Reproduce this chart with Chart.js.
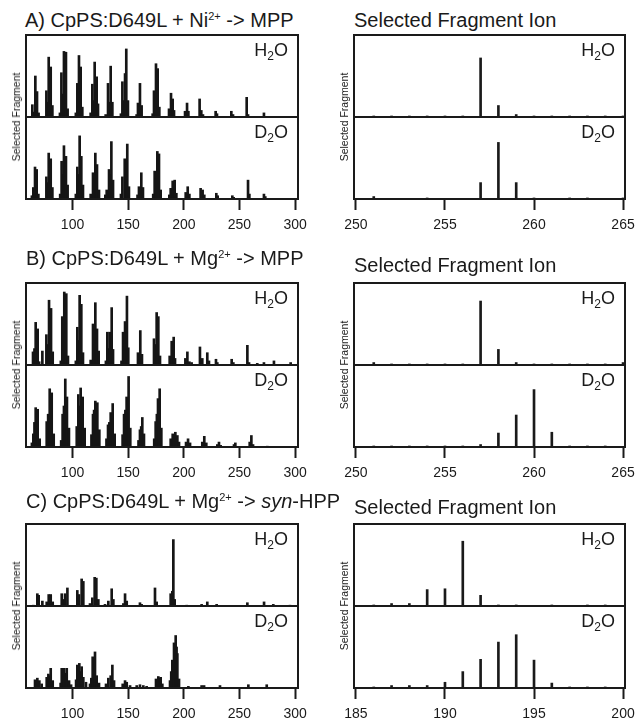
<!DOCTYPE html>
<html>
<head>
<meta charset="utf-8">
<script src="https://cdn.jsdelivr.net/npm/chart.js@4"></script>
<style>
  body { margin: 0; background: #fff; width: 636px; height: 722px; position: relative; overflow: hidden;
         font-family: "Liberation Sans", Arial, sans-serif; color: #1a1a1a; }
  canvas { position: absolute; }
  .title { position: absolute; font-size: 20px; line-height: 20px; white-space: nowrap; }
  .title sup { font-size: 11px; line-height: 0; vertical-align: 7px; }
  .solv { position: absolute; font-size: 18px; line-height: 18px; white-space: nowrap; transform: translateX(-100%); }
  .solv sub { font-size: 12px; line-height: 0; vertical-align: -4px; }
  .ylab { position: absolute; font-size: 10.5px; white-space: nowrap; transform: translate(-50%, -50%) rotate(-90deg); }
</style>
</head>
<body>
<script>
/* ---------- DATA: [m/z, % of half-panel height] ---------- */
const specA_H2O = [
  [63.9,15],[65.3,6],[66.6,50],[68.1,31],[69.5,5],
  [76.5,32],[77.5,18],[78.6,73],[80.4,61],[81.9,14],
  [88.7,5],[90.0,54],[91.1,28],[92.3,80],[93.2,35],[94.1,79],[95.6,10],
  [103.0,5],[104.3,41],[105.8,75],[106.6,30],[107.3,61],[108.8,12],
  [116.3,5],[117.8,40],[118.8,20],[119.9,67],[120.8,28],[121.7,49],[122.9,16],
  [129.8,3],[131.9,41],[133.0,18],[134.3,62],[135.8,18],
  [143.5,4],[144.8,43],[146.0,20],[147.2,53],[148.3,83],[149.8,20],
  [157.6,3],[158.8,17],[160.6,41],[162.1,14],
  [172.0,4],[173.2,32],[174.1,20],[175.0,65],[176.5,59],[178.0,12],
  [186.7,10],[188.5,29],[190.0,22],[191.2,8],
  [201.1,7],[202.9,17],[204.1,7],
  [214.2,22],[215.7,8],[217.2,3],
  [228.6,7],[229.8,4],
  [242.7,7],[244.2,3],
  [256.5,24],[257.7,3],
  [272.0,5]
];
const specA_D2O = [
  [63.5,4],[64.8,14],[66.3,39],[67.8,36],[69.3,6],
  [76.5,27],[77.5,20],[78.6,56],[80.4,49],[81.9,14],
  [88.9,6],[90.2,46],[91.2,30],[92.3,65],[93.2,35],[94.1,52],[95.6,17],
  [103.0,6],[104.3,39],[105.3,30],[106.4,77],[107.9,52],[109.4,17],
  [116.3,6],[118.4,32],[119.5,25],[120.5,56],[121.2,30],[122.0,42],[123.8,11],
  [129.5,5],[130.7,11],[132.8,36],[133.9,30],[134.9,70],[136.4,23],
  [143.5,6],[144.8,27],[146.9,49],[148.0,30],[149.2,67],[150.7,15],
  [158.4,5],[159.7,15],[161.8,32],[163.3,14],
  [172.5,6],[173.8,34],[175.0,25],[176.2,58],[177.7,55],[179.2,11],
  [187.0,5],[188.2,13],[190.0,22],[191.8,23],[193.3,7],
  [201.7,8],[203.5,15],[205.0,6],
  [215.1,13],[216.9,11],[218.4,5],
  [229.2,7],[230.4,4],
  [243.6,4],[244.8,2],
  [257.7,23],[258.9,6],
  [272.0,6],[273.2,3]
];
const specB_H2O = [
  [64.5,16],[65.8,20],[66.9,52],[68.7,44],[70.0,4],[72.9,17],
  [76.5,37],[77.7,25],[78.9,79],[80.7,69],[82.2,16],
  [89.5,5],[90.8,59],[91.7,35],[92.6,89],[93.5,40],[94.4,87],[95.9,11],
  [103.0,5],[104.3,46],[105.3,30],[106.4,85],[107.9,74],[109.4,15],
  [116.3,6],[118.4,50],[119.5,25],[120.5,76],[121.2,30],[122.0,44],[123.5,17],
  [130.0,5],[131.3,40],[132.3,20],[133.4,40],[135.2,70],[136.4,19],
  [144.0,5],[145.4,40],[146.3,22],[147.2,53],[148.9,84],[150.1,21],
  [158.8,15],[160.9,42],[162.4,13],
  [173.2,32],[174.4,25],[175.6,64],[177.1,59],[178.6,11],
  [187.3,11],[189.1,29],[190.9,34],[192.1,8],
  [201.4,8],[203.2,16],[205.0,4],[207.0,3],
  [214.5,22],[216.6,8],[221.1,15],[222.6,5],
  [228.9,7],[230.1,3],
  [243.0,7],[244.5,3],
  [257.1,24],[258.6,3],
  [266.0,2],[272.0,3],[281.0,5],[296.0,3]
];
const specB_D2O = [
  [63.5,5],[64.8,16],[65.8,30],[66.9,48],[67.8,40],[68.7,46],[70.5,10],
  [76.8,31],[78.1,40],[79.5,71],[80.4,55],[81.3,66],[83.1,16],
  [89.8,8],[91.1,40],[92.3,50],[93.5,83],[94.3,60],[95.0,61],[96.8,23],
  [103.8,25],[105.2,64],[106.3,50],[107.3,72],[108.2,55],[109.1,61],[110.9,23],
  [117.0,15],[118.4,40],[119.4,45],[120.5,56],[121.4,50],[122.3,54],[124.1,21],
  [130.5,10],[131.9,27],[133.1,30],[134.3,42],[135.2,40],[136.1,53],[137.9,16],
  [145.0,15],[146.3,40],[147.5,45],[148.6,61],[149.5,60],[150.4,86],[151.9,23],
  [159.3,8],[160.6,21],[161.7,25],[162.7,36],[164.2,16],
  [173.4,10],[174.7,31],[175.8,40],[176.8,59],[177.6,55],[178.3,71],[179.8,23],
  [188.2,10],[190.0,16],[191.2,14],[192.4,18],[194.2,14],[195.7,6],
  [202.0,6],[203.8,10],[205.6,5],
  [216.6,6],[218.4,13],[220.2,5],
  [230.1,3],[231.6,6],[233.1,2],
  [245.1,3],[246.3,5],
  [259.2,6],[260.7,14],[262.2,3],
  [275.0,1]
];
const specC_H2O = [
  [64.8,1],[68.4,15],[69.6,13],[72.9,6],
  [76.8,5],[78.6,14],[80.4,14],[82.2,5],
  [90.3,15],[91.3,8],[93.3,15],[95.4,22],
  [104.3,19],[105.8,14],[108.2,33],[109.7,30],
  [115.7,3],[117.8,10],[119.9,35],[121.4,34],[123.2,8],
  [129.2,2],[132.2,6],[135.2,21],[136.7,8],
  [145.7,3],[147.2,15],[148.7,6],
  [160.6,4],[162.1,2],
  [174.1,22],[175.6,5],
  [188.2,15],[189.7,18],[190.6,81],[191.8,8],
  [202.6,1],[216.0,2],[221.1,5],[229.5,2],[257.1,4],[272.1,5],[280.4,2],[295.4,1]
];
const specC_D2O = [
  [66.3,10],[67.3,8],[68.4,12],[70.2,9],[72.3,5],
  [76.8,13],[78.3,17],[79.4,15],[80.4,24],[82.2,9],
  [89.3,6],[90.3,24],[91.4,18],[92.4,24],[93.6,18],[94.8,24],[96.9,9],[98.7,4],
  [103.2,10],[104.3,28],[105.2,22],[106.1,30],[107.2,20],[108.2,26],[109.7,13],[112.1,7],
  [115.7,5],[116.9,12],[118.1,38],[120.2,44],[121.7,15],[123.8,6],
  [130.1,5],[132.2,12],[134.3,15],[135.8,28],[137.3,9],
  [145.1,5],[147.2,9],[148.7,7],[151.7,3],
  [157.7,3],[160.6,4],[163.6,3],[166.6,2],
  [175.0,11],[177.1,14],[178.2,12],[179.2,13],[180.7,5],
  [187.6,9],[188.7,20],[189.7,34],[191.2,55],[192.7,64],[193.5,50],[194.2,42],[195.7,11],
  [204.1,2],[216.0,3],[218.2,3],[232.5,3],[258.0,4],[274.5,4]
];

/* selected fragment ion, one value per integer m/z */
const ionMzAB  = [250,251,252,253,254,255,256,257,258,259,260,261,262,263,264,265];
const ionA_H2O = [0,2,2,2,2,2,2,72,14,3,2,2,2,2,2,2];
const ionA_D2O = [0,3,0,0,2,0,0,20,69,20,2,0,2,2,0,2];
const ionB_H2O = [0,3,2,2,2,2,2,78,19,3,2,2,2,2,2,3];
const ionB_D2O = [0,2,2,2,2,2,2,3,17,39,70,18,2,2,2,0];
const ionMzC   = [185,186,187,188,189,190,191,192,193,194,195,196,197,198,199,200];
const ionC_H2O = [0,2,3,3,20,21,79,13,2,2,0,2,0,2,2,0];
const ionC_D2O = [0,2,3,3,3,7,20,35,56,65,34,6,2,2,2,0];

const fullTicks = [100,150,200,250,300];
const ionTicksAB = [250,255,260,265];
const ionTicksC = [185,190,195,200];

const titlesLeft = [
  'A) CpPS:D649L + Ni<sup>2+</sup> -&gt; MPP',
  'B) CpPS:D649L + Mg<sup>2+</sup> -&gt; MPP',
  'C) CpPS:D649L + Mg<sup>2+</sup> -&gt; <i>syn</i>-HPP'
];
const titleRight = 'Selected Fragment Ion';
const yLabel = 'Selected Fragment';

/* ---------- LAYOUT ---------- */
const FONT = '"Liberation Sans", Arial, sans-serif';
const INK = '#1a1a1a';
const ROWS = [
  { top: 35,  mid: 117, bot: 199, tl: 10,  tr: 10 },
  { top: 283, mid: 365, bot: 447, tl: 248, tr: 255 },
  { top: 524, mid: 606, bot: 688, tl: 491, tr: 497 }
];
const LEFT  = { l: 26,  r: 298 };
const RIGHT = { l: 354, r: 625 };
const PX = 20, PY = 4, AX = 40;

const frame = {
  id: 'frame',
  afterDraw(chart) {
    const { ctx, chartArea: a } = chart;
    ctx.save();
    ctx.strokeStyle = INK;
    ctx.lineWidth = 2;
    ctx.strokeRect(a.left, a.top, a.right - a.left, a.bottom - a.top);
    ctx.restore();
  }
};

function half(col, y0, y1, points, xr, ticks, barW, withAxis, dots) {
  const c = document.createElement('canvas');
  c.width = col.r - col.l + 2 * PX;
  c.height = y1 - y0 + PY + (withAxis ? AX : PY);
  c.style.left = (col.l - PX) + 'px';
  c.style.top = (y0 - PY) + 'px';
  document.body.appendChild(c);

  new Chart(c, {
    type: 'bar',
    data: {
      datasets: [{
        data: points,
        backgroundColor: dots ? (ctx => (ctx.raw && ctx.raw.y <= 2 ? '#aaa' : INK)) : '#151515',
        borderWidth: 0,
        barThickness: barW
      }]
    },
    options: {
      responsive: false,
      animation: false,
      devicePixelRatio: 1,
      layout: { padding: { left: PX, right: PX, top: PY, bottom: withAxis ? 0 : PY } },
      plugins: { legend: { display: false }, tooltip: { enabled: false } },
      scales: {
        x: {
          type: 'linear', min: xr[0], max: xr[1], offset: false, display: withAxis,
          grid: { display: true, offset: false, drawOnChartArea: false, tickLength: 11, tickWidth: 2, tickColor: INK },
          border: { display: false },
          ticks: { font: { family: FONT, size: 14 }, color: INK, padding: 7, maxRotation: 0, autoSkip: false },
          afterBuildTicks: s => { s.ticks = ticks.map(v => ({ value: v })); },
          afterFit: s => { s.height = withAxis ? AX : 0; }
        },
        y: { display: false, min: 0, max: 100 }
      }
    },
    plugins: [frame]
  });
}

function label(cls, html, x, y) {
  const d = document.createElement('div');
  d.className = cls;
  d.innerHTML = html;
  d.style.left = x + 'px';
  d.style.top = y + 'px';
  document.body.appendChild(d);
}

const pts = arr => arr.map(([x, y]) => ({ x, y }));
const sticks = (mz, vals) => mz.map((x, i) => ({ x, y: vals[i] }));

const leftSpec = [[specA_H2O, specA_D2O], [specB_H2O, specB_D2O], [specC_H2O, specC_D2O]];
const rightSpec = [
  [sticks(ionMzAB, ionA_H2O), sticks(ionMzAB, ionA_D2O), [249.89, 265.11], ionTicksAB],
  [sticks(ionMzAB, ionB_H2O), sticks(ionMzAB, ionB_D2O), [249.89, 265.11], ionTicksAB],
  [sticks(ionMzC, ionC_H2O), sticks(ionMzC, ionC_D2O), [184.89, 200.11], ionTicksC]
];

ROWS.forEach((row, i) => {
  const [h2o, d2o] = leftSpec[i];
  half(LEFT, row.top, row.mid, pts(h2o), [58.2, 302.6], fullTicks, 2, false, false);
  half(LEFT, row.mid, row.bot, pts(d2o), [58.2, 302.6], fullTicks, 2, true, false);

  const [rh, rd, rr, rt] = rightSpec[i];
  half(RIGHT, row.top, row.mid, rh, rr, rt, 2, false, true);
  half(RIGHT, row.mid, row.bot, rd, rr, rt, 2, true, true);

  label('title', titlesLeft[i], i === 0 ? 25 : 26, row.tl);
  label('title', titleRight, 354, row.tr);

  [LEFT, RIGHT].forEach(col => {
    label('solv', 'H<sub>2</sub>O', col.r - 10, row.top + 6);
    label('solv', 'D<sub>2</sub>O', col.r - 10, row.mid + 6);
  });
  label('ylab', yLabel, 16, row.mid);
  label('ylab', yLabel, 344, row.mid);
});
</script>
</body>
</html>
